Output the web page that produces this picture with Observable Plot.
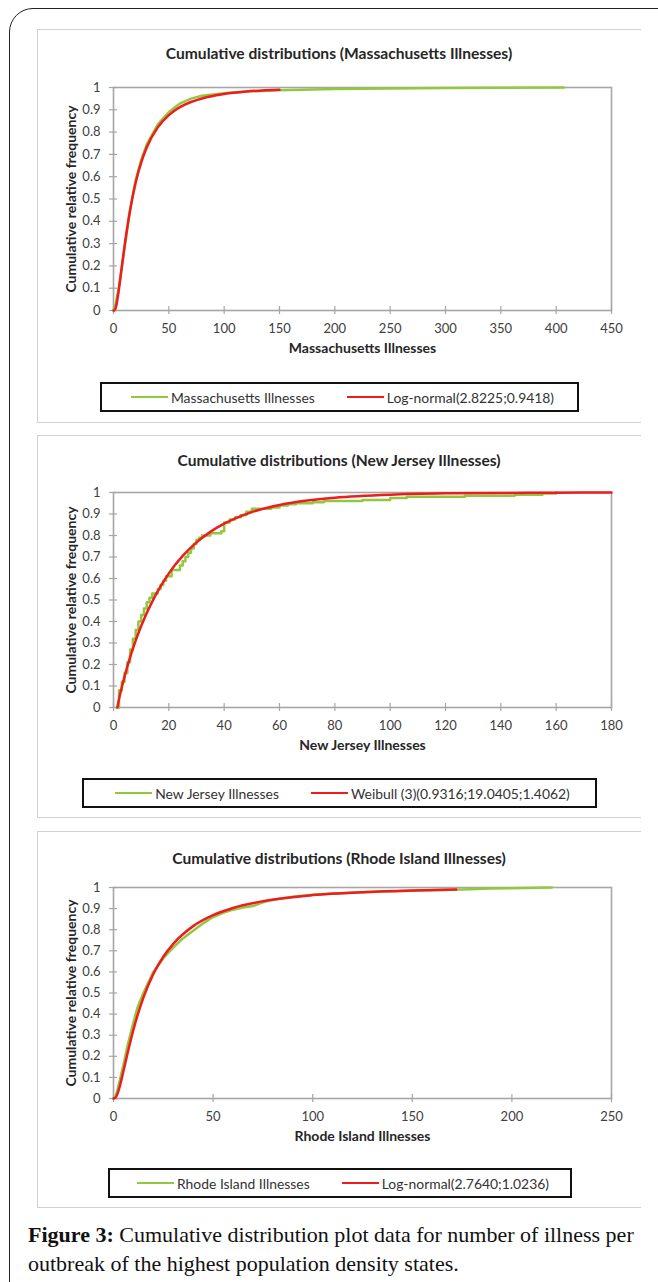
<!DOCTYPE html>
<html><head><meta charset="utf-8">
<script src="https://cdn.jsdelivr.net/npm/d3@7"></script>
<script src="https://cdn.jsdelivr.net/npm/@observablehq/plot@0.6"></script>
<style>
html,body{margin:0;padding:0;background:#fff;}
#page{position:relative;width:658px;height:1282px;overflow:hidden;background:#fff;font-family:Lato,"Open Sans",sans-serif;color:#262626;}
#frame{position:absolute;left:9px;top:8px;width:700px;height:1320px;border:1.6px solid #222;border-radius:24px;box-sizing:border-box;}
.panel{position:absolute;left:37px;width:604px;border:1.6px solid #d0d0d0;border-right:none;box-sizing:border-box;background:#fff;}
.title{position:absolute;left:37px;width:604px;text-align:center;font-weight:bold;font-size:15.6px;line-height:18px;color:#262626;}
.chart{position:absolute;left:37px;}
.legend{position:absolute;border:2px solid #111;box-sizing:border-box;display:flex;align-items:center;justify-content:center;padding-left:6px;font-size:13.9px;color:#333;background:#fff;}
.legend .sw{display:inline-block;width:37px;height:2.5px;margin-right:3px;}
.legend .gap{display:inline-block;width:32px;}
#caption{position:absolute;left:28px;top:1220px;font-family:"Liberation Serif","DejaVu Serif",serif;font-size:22px;line-height:29px;color:#111;white-space:nowrap;}
</style>
</head><body>
<div id="page">
  <div id="frame"></div>
  <div class="panel" style="top:29px;height:394px"></div>
  <div class="panel" style="top:435px;height:383px"></div>
  <div class="panel" style="top:831px;height:377px"></div>
  <div class="title" style="top:44px">Cumulative distributions (Massachusetts Illnesses)</div>
  <div class="title" style="top:451px">Cumulative distributions (New Jersey Illnesses)</div>
  <div class="title" style="top:849px">Cumulative distributions (Rhode Island Illnesses)</div>
  <div class="chart" id="c1" style="top:77px"></div>
  <div class="chart" id="c2" style="top:482px"></div>
  <div class="chart" id="c3" style="top:877px"></div>
  <div class="legend" style="left:100px;top:382px;width:479px;height:30px"><span class="sw" style="background:#92c83e"></span><span id="l1a"></span><span class="gap"></span><span class="sw" style="background:#ee1c1c"></span><span id="l1b"></span></div>
  <div class="legend" style="left:82px;top:778px;width:515px;height:30px"><span class="sw" style="background:#92c83e"></span><span id="l2a"></span><span class="gap"></span><span class="sw" style="background:#ee1c1c"></span><span id="l2b"></span></div>
  <div class="legend" style="left:108px;top:1168px;width:464px;height:30px"><span class="sw" style="background:#92c83e"></span><span id="l3a"></span><span class="gap"></span><span class="sw" style="background:#ee1c1c"></span><span id="l3b"></span></div>
  <div id="caption"><b>Figure 3:</b> Cumulative distribution plot data for number of illness per<br>outbreak of the highest population density states.</div>
</div>
<script>
// ---- data ----
const yTicks = [0, 0.1, 0.2, 0.3, 0.4, 0.5, 0.6, 0.7, 0.8, 0.9, 1];
const yTitle = "Cumulative relative frequency";

// Massachusetts
const maTicks = [0, 50, 100, 150, 200, 250, 300, 350, 400, 450];
const maEmpX = [0, 2, 5, 8, 10, 15, 20, 25, 30, 40, 50, 60, 70, 80, 90, 100, 120, 150, 200, 250, 300, 350, 407];
const maEmpY = [0, 0.03, 0.11, 0.21, 0.28, 0.45, 0.585, 0.675, 0.745, 0.835, 0.89, 0.928, 0.95, 0.963, 0.969, 0.974, 0.982, 0.988, 0.993, 0.996, 0.998, 0.999, 1];
const maFitX = [0, 1, 2, 3, 5, 7, 10, 15, 20, 25, 30, 40, 50, 60, 70, 80, 100, 120, 150];
const maFitY = [0, 0.001, 0.012, 0.034, 0.099, 0.176, 0.29, 0.451, 0.573, 0.663, 0.731, 0.821, 0.876, 0.912, 0.935, 0.951, 0.971, 0.982, 0.99];
const maNames = ["Massachusetts Illnesses", "Log-normal(2.8225;0.9418)"];

// New Jersey
const njTicks = [0, 20, 40, 60, 80, 100, 120, 140, 160, 180];
const njEmpX = [1.5, 2, 3, 4, 5, 6, 7, 8, 9, 10, 11, 12, 13, 14, 16, 17, 18, 19, 21, 24, 25, 26, 27, 28, 29, 30, 31, 32, 35, 39, 40, 42, 44, 46, 48, 50, 57, 60, 63, 66, 72, 76, 90, 100, 106, 127, 145, 155, 160];
const njEmpY = [0, 0.08, 0.12, 0.16, 0.21, 0.27, 0.32, 0.36, 0.40, 0.43, 0.46, 0.49, 0.51, 0.53, 0.55, 0.57, 0.59, 0.61, 0.64, 0.66, 0.68, 0.70, 0.72, 0.74, 0.76, 0.78, 0.79, 0.80, 0.81, 0.82, 0.86, 0.875, 0.885, 0.895, 0.91, 0.925, 0.93, 0.94, 0.945, 0.95, 0.955, 0.96, 0.965, 0.975, 0.98, 0.985, 0.99, 0.995, 1];
const njFitX = [1.4, 2, 3, 5, 8, 10, 15, 20, 25, 30, 35, 40, 50, 60, 70, 80, 100, 120, 140, 160, 180];
const njFitY = [0, 0.039, 0.094, 0.191, 0.311, 0.379, 0.518, 0.624, 0.705, 0.768, 0.817, 0.855, 0.909, 0.942, 0.963, 0.976, 0.990, 0.996, 0.998, 0.999, 1];
const njNames = ["New Jersey Illnesses", "Weibull (3)(0.9316;19.0405;1.4062)"];

// Rhode Island
const riTicks = [0, 50, 100, 150, 200, 250];
const riEmpX = [0, 1, 2, 3, 5, 7, 10, 12, 15, 20, 25, 30, 35, 40, 45, 50, 55, 60, 65, 70, 75, 80, 90, 100, 110, 125, 150, 175, 190, 200, 220];
const riEmpY = [0, 0.01, 0.04, 0.08, 0.16, 0.25, 0.36, 0.43, 0.5, 0.6, 0.665, 0.715, 0.76, 0.795, 0.83, 0.86, 0.88, 0.895, 0.905, 0.912, 0.93, 0.942, 0.956, 0.966, 0.972, 0.978, 0.985, 0.99, 0.995, 0.997, 1];
const riFitX = [0, 1, 2, 3, 5, 7, 10, 15, 20, 25, 30, 40, 50, 60, 75, 100, 125, 150, 172];
const riFitY = [0, 0.004, 0.022, 0.052, 0.13, 0.212, 0.326, 0.478, 0.59, 0.672, 0.733, 0.817, 0.869, 0.903, 0.935, 0.964, 0.978, 0.986, 0.99];
const riNames = ["Rhode Island Illnesses", "Log-normal(2.7640;1.0236)"];

const GREEN = "#92c83e", RED = "#ee1c1c", AXIS = "#a6a6a6";
const zip = (xs, ys) => xs.map((x, i) => ({x, y: ys[i]}));

function panel({ticks, empX, empY, fitX, fitY, plotH, xTitle, empCurve}) {
  return Plot.plot({
    width: 604, height: 10 + plotH + 52,
    marginLeft: 76, marginRight: 30, marginTop: 10, marginBottom: 52,
    style: {fontFamily: "Lato, 'Open Sans', sans-serif", fontSize: "13px", color: "#404040", background: "transparent", overflow: "visible"},
    x: {domain: [ticks[0], ticks[ticks.length - 1]]},
    y: {domain: [0, 1]},
    marks: [
      Plot.frame({stroke: AXIS, strokeWidth: 1.6}),
      Plot.axisX(ticks, {tickSize: 8, dy: -4, tickPadding: 9, stroke: AXIS, fill: "#404040", strokeWidth: 1.2, tickFormat: d => String(d), label: null}),
      Plot.axisY(yTicks, {tickSize: 8, dx: 4, tickPadding: 9, stroke: AXIS, fill: "#404040", strokeWidth: 1.2, tickFormat: d => String(d), label: null}),
      Plot.line(zip(empX, empY), {x: "x", y: "y", stroke: GREEN, strokeWidth: 2.5, curve: empCurve}),
      Plot.line(zip(fitX, fitY), {x: "x", y: "y", stroke: RED, strokeWidth: 2.5, curve: "monotone-x"}),
      Plot.text([xTitle], {frameAnchor: "bottom", dy: 42, fontWeight: "bold", fontSize: 14, fill: "#262626"}),
      Plot.text([yTitle], {frameAnchor: "left", textAnchor: "middle", dx: -42, rotate: -90, fontWeight: "bold", fontSize: 14, fill: "#262626"})
    ]
  });
}

document.getElementById("c1").append(panel({ticks: maTicks, empX: maEmpX, empY: maEmpY, fitX: maFitX, fitY: maFitY, plotH: 223, xTitle: "Massachusetts Illnesses", empCurve: "linear"}));
document.getElementById("c2").append(panel({ticks: njTicks, empX: njEmpX, empY: njEmpY, fitX: njFitX, fitY: njFitY, plotH: 215, xTitle: "New Jersey Illnesses", empCurve: "step-after"}));
document.getElementById("c3").append(panel({ticks: riTicks, empX: riEmpX, empY: riEmpY, fitX: riFitX, fitY: riFitY, plotH: 211, xTitle: "Rhode Island Illnesses", empCurve: "linear"}));

[["l1a", maNames[0]], ["l1b", maNames[1]], ["l2a", njNames[0]], ["l2b", njNames[1]], ["l3a", riNames[0]], ["l3b", riNames[1]]]
  .forEach(([id, t]) => document.getElementById(id).textContent = t);
</script>
</body></html>
